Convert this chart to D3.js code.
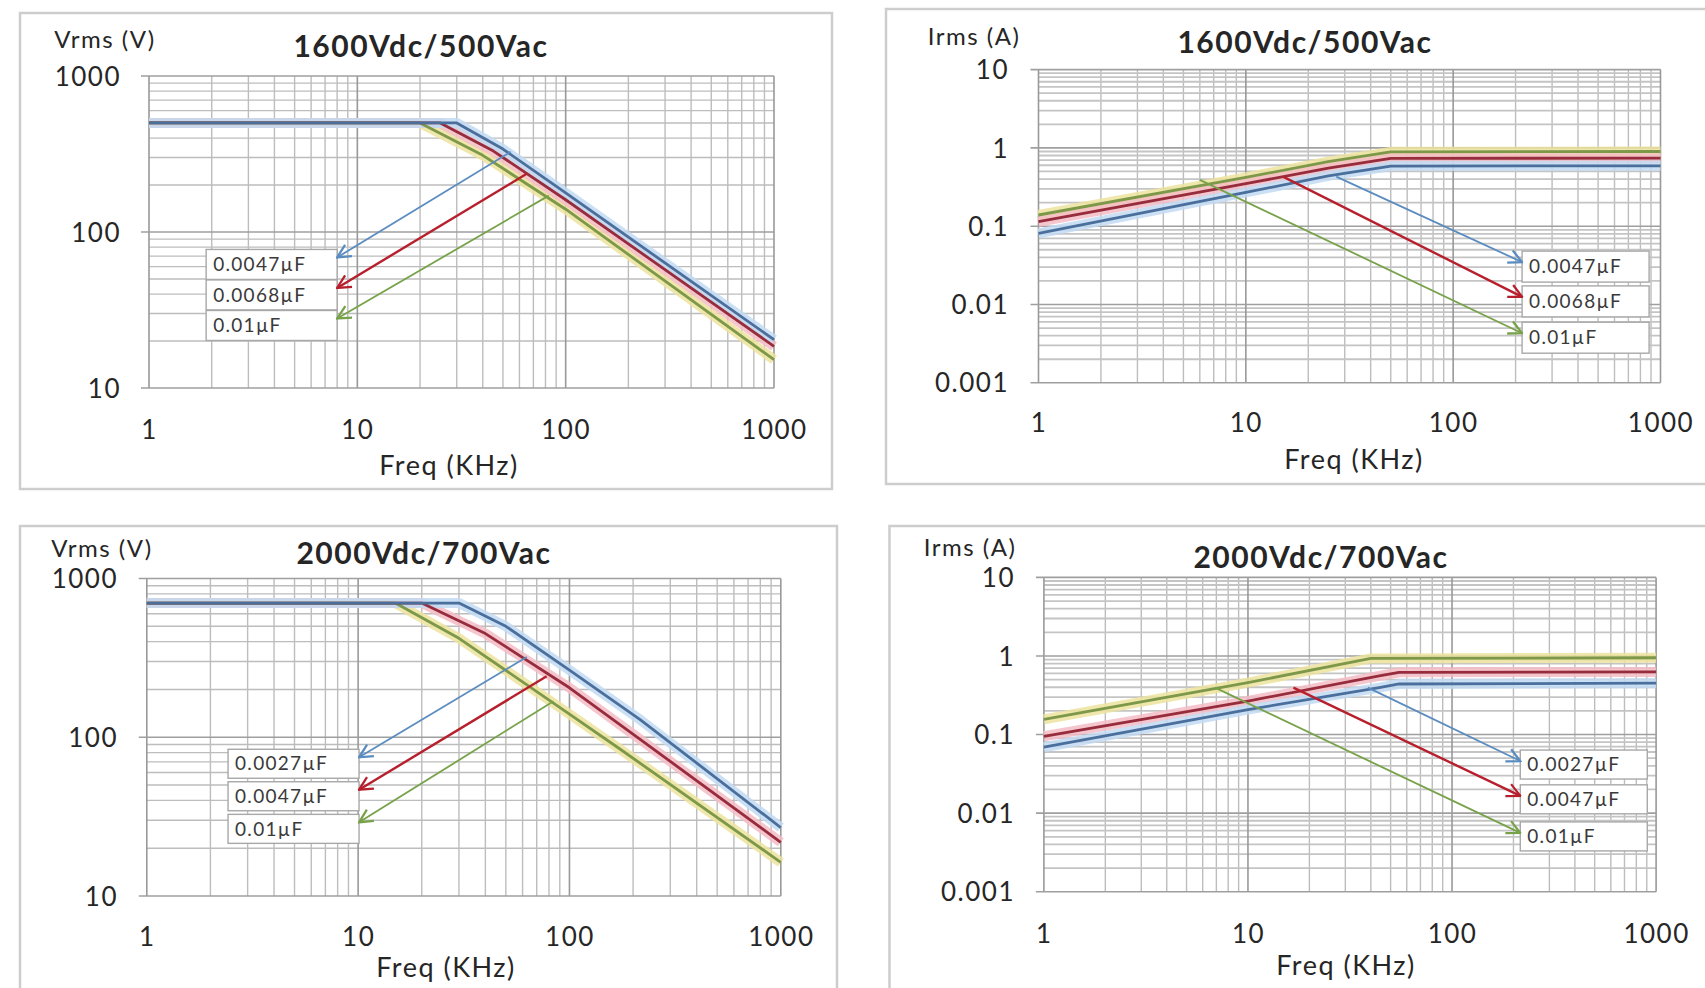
<!DOCTYPE html>
<html><head><meta charset="utf-8">
<script src="https://cdn.jsdelivr.net/npm/d3@7"></script>
<style>
body{margin:0;background:#fff;}
svg{display:block;}
</style>
</head><body>
<svg id="c" width="1705" height="988"></svg>
<script>
// ---------------- DATA ----------------
const freqTicks = [1, 10, 100, 1000];
const voltTicks = [10, 100, 1000];
const currTicks = [0.001, 0.01, 0.1, 1, 10];

const titleA = "1600Vdc/500Vac";
const titleB = "2000Vdc/700Vac";
const capsA = ["0.0047µF", "0.0068µF", "0.01µF"];
const capsB = ["0.0027µF", "0.0047µF", "0.01µF"];
const xAxisTitle = "Freq (KHz)";
const voltAxisTitle = "Vrms (V)";
const currAxisTitle = "Irms (A)";

// Vrms vs freq, 1600Vdc/500Vac  [kHz, V]
const vA_blue  = [[1,500],[30,500],[50,340],[100,178],[1000,20.4]];
const vA_red   = [[1,500],[25,500],[45,330],[100,161],[1000,18.5]];
const vA_green = [[1,500],[20,500],[40,310],[100,140],[1000,15.2]];
// Irms vs freq, 1600Vdc/500Vac  [kHz, A]
const iA_blue  = [[1,0.081],[10,0.27],[25,0.44],[50,0.586],[1000,0.59]];
const iA_red   = [[1,0.114],[10,0.35],[25,0.55],[50,0.736],[1000,0.74]];
const iA_green = [[1,0.139],[10,0.42],[25,0.666],[50,0.89],[1000,0.9]];
// Vrms vs freq, 2000Vdc/700Vac
const vB_blue  = [[1,700],[30,700],[50,500],[100,265],[216,129],[1000,27]];
const vB_red   = [[1,700],[20,700],[40,450],[100,205],[216,97],[1000,21.8]];
const vB_green = [[1,700],[15,700],[30,420],[100,140],[174,84],[1000,16.3]];
// Irms vs freq, 2000Vdc/700Vac
const iB_blue  = [[1,0.069],[10,0.208],[44,0.395],[55,0.44],[1000,0.45]];
const iB_red   = [[1,0.095],[10,0.267],[44,0.557],[55,0.62],[1000,0.627]];
const iB_green = [[1,0.156],[10,0.458],[40,0.93],[1000,0.95]];

// callout arrows [fromFreq, fromValue, toFreq, toValue]
const vA_arrows = [[54.5,327,8.0,68.7],[65,236,8.0,43.8],[83,171,8.0,27.9]];
const iA_arrows = [[27.3,0.43,215,0.0348],[15.1,0.43,215,0.0125],[6.0,0.39,215,0.0043]];
const vB_arrows = [[62.8,320,10.1,74.8],[78,242,10.1,46.7],[84,168.6,10.1,29.1]];
const iB_arrows = [[38.7,0.395,216,0.046],[16.7,0.395,216,0.0166],[6.9,0.395,216,0.0056]];

// ---------------- STYLE ----------------
const FONT = "Lato, 'Open Sans', 'DejaVu Sans', sans-serif";
const lineColors = ["#4a6f9c", "#962c3c", "#7c9848"];
const glowColors = ["#c2daf2", "#f4bcc6", "#ece39e"];
const arrowColors = ["#5b8cc0", "#b81f2d", "#78a24a"];
const textColor = "#262626";

const svg = d3.select("#c");
svg.append("rect").attr("width",1705).attr("height",988).attr("fill","#fff");

const defs = svg.append("defs");
arrowColors.forEach((c,i)=>{
  defs.append("marker").attr("id","ah"+i)
    .attr("viewBox","0 0 12 12").attr("refX",11).attr("refY",6)
    .attr("markerWidth",16).attr("markerHeight",16)
    .attr("markerUnits","userSpaceOnUse").attr("orient","auto")
    .append("path").attr("d","M1,1 L11,6 L1,11")
    .attr("fill","none").attr("stroke",c).attr("stroke-width",1.7);
});

const panels = [
  {title:titleA, yTitle:voltAxisTitle, yDomain:[10,1000], yTicks:voltTicks,
   series:[vA_blue,vA_red,vA_green], arrows:vA_arrows, caps:capsA, side:"left",
   frame:[20,13,812,476], plot:[149,774,76,388],
   yTitlePos:[105,40], titlePos:[421,46], xTitlePos:[449,466], yLabX:121, xLabY:430,
   boxW:131, boxH:30, boxOff:8, dense:false},
  {title:titleA, yTitle:currAxisTitle, yDomain:[0.001,10], yTicks:currTicks,
   series:[iA_blue,iA_red,iA_green], arrows:iA_arrows, caps:capsA, side:"right",
   frame:[886,9,840,475], plot:[1038.5,1660.5,69.6,382.8],
   yTitlePos:[974,37], titlePos:[1305,42], xTitlePos:[1354,460], yLabX:1009, xLabY:423,
   boxW:127, boxH:31, boxOff:11, dense:true},
  {title:titleB, yTitle:voltAxisTitle, yDomain:[10,1000], yTicks:voltTicks,
   series:[vB_blue,vB_red,vB_green], arrows:vB_arrows, caps:capsB, side:"left",
   frame:[20,526,817,480], plot:[146.8,780.8,578.5,896],
   yTitlePos:[102,549], titlePos:[424,553], xTitlePos:[446,968], yLabX:118, xLabY:937,
   boxW:131, boxH:29, boxOff:8, dense:false},
  {title:titleB, yTitle:currAxisTitle, yDomain:[0.001,10], yTicks:currTicks,
   series:[iB_blue,iB_red,iB_green], arrows:iB_arrows, caps:capsB, side:"right",
   frame:[889.5,526,840,480], plot:[1043.9,1656.1,577.4,891.7],
   yTitlePos:[970,548], titlePos:[1321,557], xTitlePos:[1346,966], yLabX:1015, xLabY:934,
   boxW:127, boxH:29, boxOff:11, dense:true}
];

function minorValues(domain){
  const out=[];
  const lo=Math.round(Math.log10(domain[0])), hi=Math.round(Math.log10(domain[1]));
  for(let e=lo;e<hi;e++){
    for(let k=2;k<=9;k++) out.push(k*Math.pow(10,e));
  }
  return out;
}

panels.forEach(p=>{
  const g = svg.append("g");
  const [fx,fy,fw,fh] = p.frame;
  g.append("rect").attr("x",fx).attr("y",fy).attr("width",fw).attr("height",fh)
    .attr("fill","#fff").attr("stroke","#cdcdcd").attr("stroke-width",2.5);

  const [x0,x1,yT,yB] = p.plot;
  const x = d3.scaleLog().domain([1,1000]).range([x0,x1]);
  const y = d3.scaleLog().domain(p.yDomain).range([yB,yT]);

  // grid
  const grid = g.append("g");
  grid.selectAll(".vx").data(minorValues([1,1000])).enter().append("line")
    .attr("x1",d=>x(d)).attr("x2",d=>x(d)).attr("y1",yT).attr("y2",yB)
    .attr("stroke","#bdbdbd").attr("stroke-width",1.4);
  grid.selectAll(".hy").data(minorValues(p.yDomain)).enter().append("line")
    .attr("y1",d=>y(d)).attr("y2",d=>y(d)).attr("x1",x0).attr("x2",x1)
    .attr("stroke",p.dense?"#c4c4c4":"#bdbdbd").attr("stroke-width",p.dense?1.8:1.4);
  grid.selectAll(".vM").data(freqTicks).enter().append("line")
    .attr("x1",d=>x(d)).attr("x2",d=>x(d)).attr("y1",yT).attr("y2",yB)
    .attr("stroke","#999").attr("stroke-width",1.6);
  grid.selectAll(".hM").data(p.yTicks).enter().append("line")
    .attr("y1",d=>y(d)).attr("y2",d=>y(d)).attr("x1",x0-8).attr("x2",x1)
    .attr("stroke","#9f9f9f").attr("stroke-width",1.6);

  // axes labels via d3 axes (tick text only)
  const xAxis = d3.axisBottom(x).tickValues(freqTicks).tickFormat(d=>String(d)).tickSize(0);
  const xa = g.append("g").attr("transform",`translate(0,${p.xLabY})`).call(xAxis);
  xa.select(".domain").remove();
  xa.selectAll("text").attr("dy","0.35em").attr("y",0)
    .style("font-family",FONT).style("font-size","26px").style("letter-spacing","1.5px")
    .attr("fill",textColor);

  const yAxis = d3.axisLeft(y).tickValues(p.yTicks).tickFormat(d=>String(d)).tickSize(0);
  const ya = g.append("g").attr("transform",`translate(${p.yLabX},0)`).call(yAxis);
  ya.select(".domain").remove();
  ya.selectAll("text").attr("x",0).attr("dy","0.35em")
    .style("font-family",FONT).style("font-size","26px").style("letter-spacing","1.5px")
    .attr("fill",textColor);

  // titles
  g.append("text").attr("x",p.titlePos[0]).attr("y",p.titlePos[1]).attr("dy","0.35em")
    .attr("text-anchor","middle").style("font-family",FONT).style("font-size","30px")
    .style("letter-spacing","1.5px")
    .style("font-weight","bold").attr("fill",textColor).text(p.title);
  g.append("text").attr("x",p.yTitlePos[0]).attr("y",p.yTitlePos[1]).attr("dy","0.35em")
    .attr("text-anchor","middle").style("font-family",FONT).style("font-size","24px")
    .style("letter-spacing","1.5px")
    .attr("fill",textColor).text(p.yTitle);
  g.append("text").attr("x",p.xTitlePos[0]).attr("y",p.xTitlePos[1]).attr("dy","0.35em")
    .attr("text-anchor","middle").style("font-family",FONT).style("font-size","27px")
    .style("letter-spacing","1.5px")
    .attr("fill",textColor).text(xAxisTitle);

  // series lines with glow
  const line = d3.line().x(d=>x(d[0])).y(d=>y(d[1]));
  const order = [2,1,0];
  order.forEach(i=>{
    g.append("path").datum(p.series[i]).attr("d",line).attr("fill","none")
      .attr("stroke",glowColors[i]).attr("stroke-width",10).attr("stroke-linejoin","round")
      .attr("stroke-opacity",0.85);
  });
  order.forEach(i=>{
    g.append("path").datum(p.series[i]).attr("d",line).attr("fill","none")
      .attr("stroke",lineColors[i]).attr("stroke-width",2.8).attr("stroke-linejoin","round");
  });

  // callout boxes
  p.arrows.forEach((a,i)=>{
    const tx = x(a[2]), ty = y(a[3]);
    const bx = p.side==="left" ? tx - p.boxW : tx;
    const by = ty - p.boxOff;
    g.append("rect").attr("x",bx).attr("y",by).attr("width",p.boxW).attr("height",p.boxH)
      .attr("fill","#fff").attr("stroke","#a8a8a8").attr("stroke-width",1.4);
    g.append("text").attr("x",bx+7).attr("y",by+p.boxH/2).attr("dy","0.35em")
      .style("font-family",FONT).style("font-size","19px").style("letter-spacing","1.3px")
      .attr("fill","#3a3a3a").text(p.caps[i]);
  });
  // arrows
  p.arrows.forEach((a,i)=>{
    g.append("line").attr("x1",x(a[0])).attr("y1",y(a[1])).attr("x2",x(a[2])).attr("y2",y(a[3]))
      .attr("stroke",arrowColors[i]).attr("stroke-width",i===1?2.4:1.8)
      .attr("marker-end",`url(#ah${i})`);
  });
});
</script>
</body></html>
